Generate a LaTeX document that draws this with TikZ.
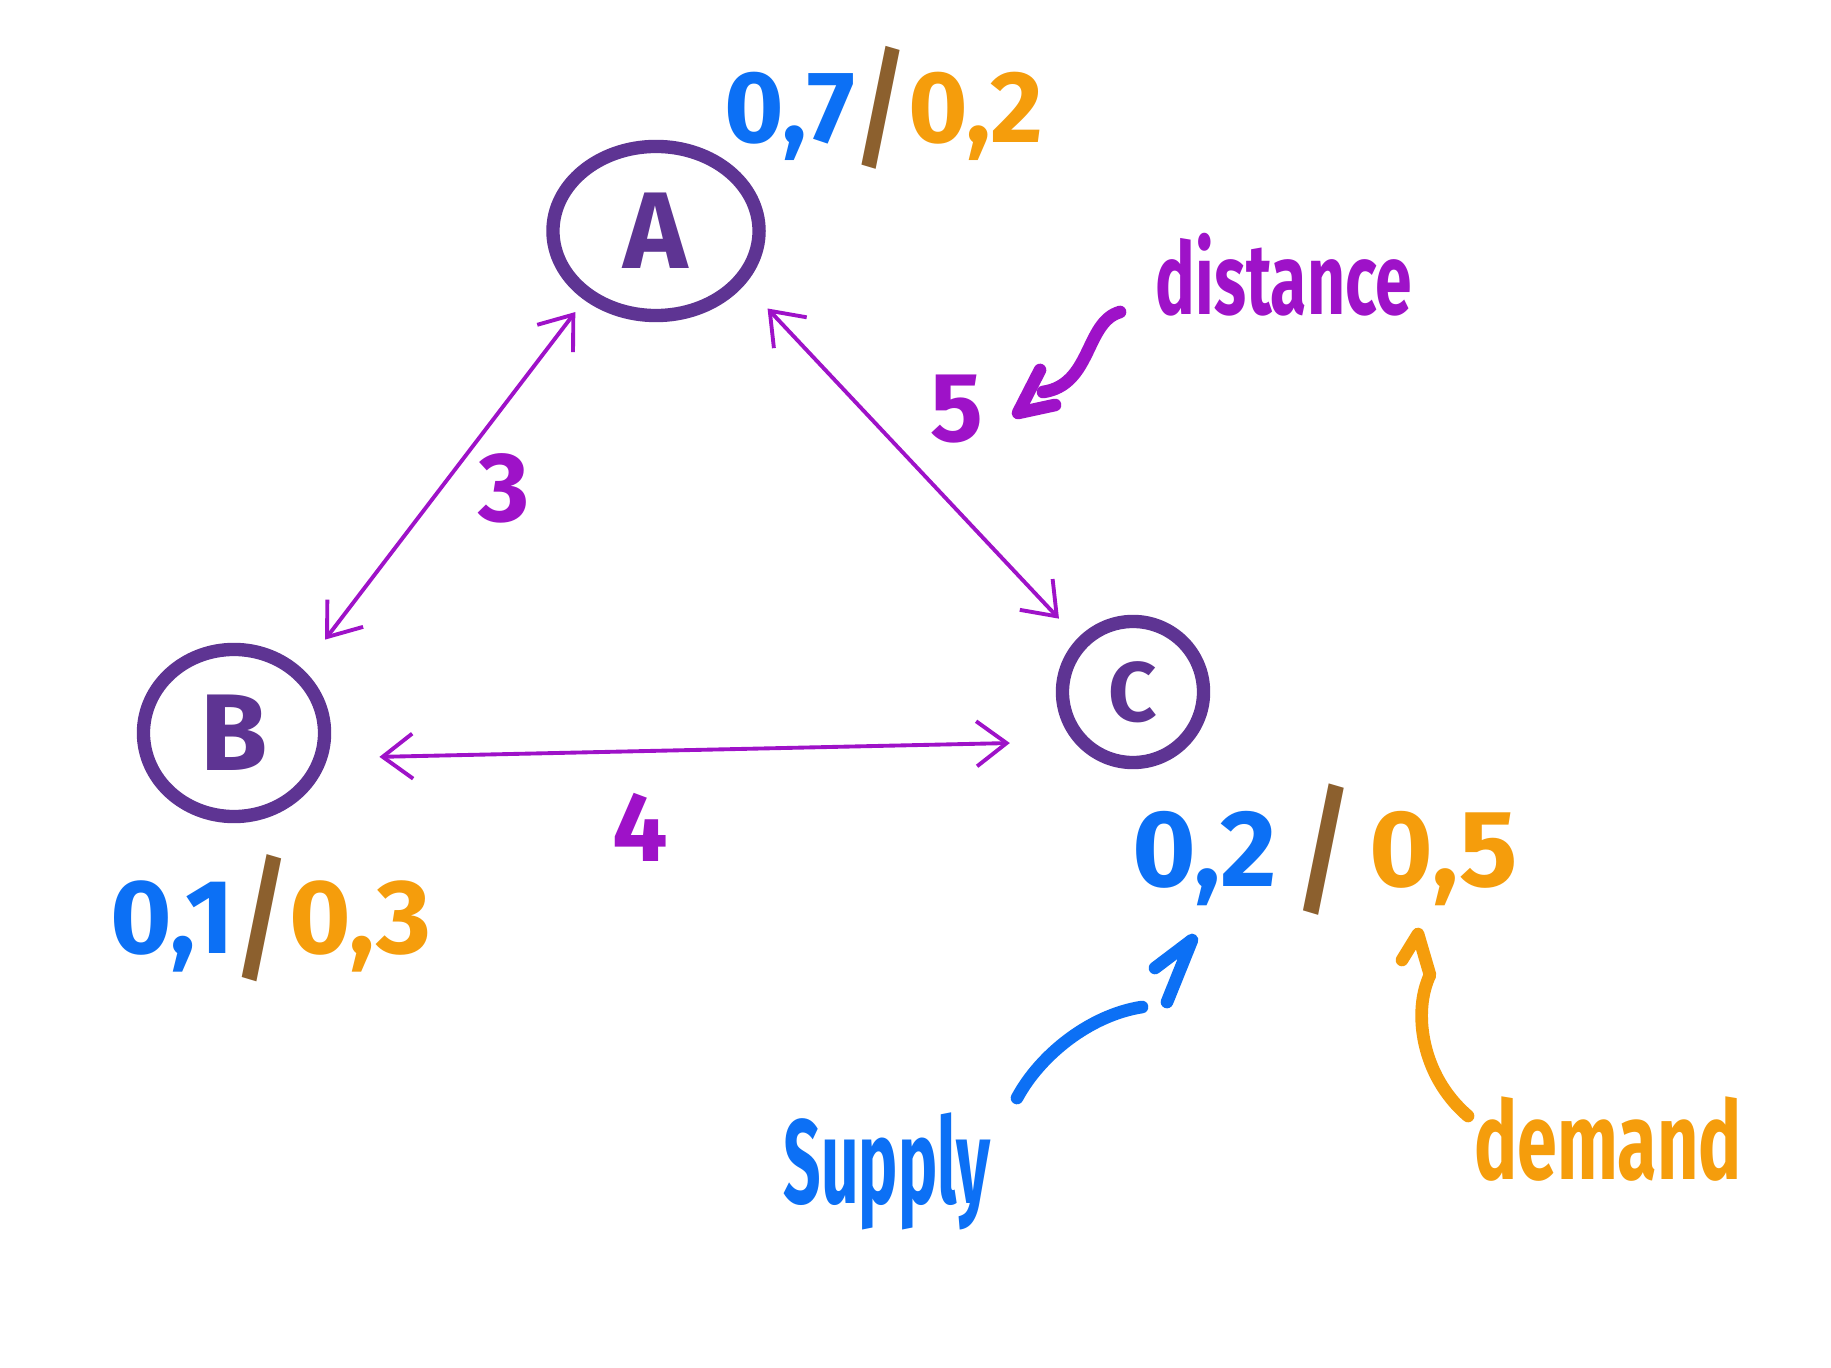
\documentclass[tikz,border=0pt]{standalone}
\usepackage{fontspec}
\newfontfamily\hand[FakeStretch=0.66]{Fira Sans}
\newfontfamily\handn[FakeStretch=0.55]{Fira Sans}
\newfontfamily\handd{Fira Sans}
\usetikzlibrary{shapes.geometric,arrows.meta}
\definecolor{nodepurple}{RGB}{94,52,147}
\definecolor{edgemag}{RGB}{158,18,200}
\definecolor{supblue}{RGB}{12,112,245}
\definecolor{demorange}{RGB}{245,157,12}
\definecolor{slashbrown}{RGB}{140,96,46}
\newcommand{\bslash}{{\color{slashbrown}\raisebox{-0.12em}{\scalebox{1.0}[1.3]{/}}}}
\begin{document}
\begin{tikzpicture}[x=0.01cm,y=-0.01cm,
  vertex/.style={ellipse, draw=nodepurple, line width=3.8pt, inner sep=0pt,
    text=nodepurple, font=\handd\bfseries\fontsize{31}{31}\selectfont},
  edge/.style={draw=edgemag, line width=1.1pt, line cap=round, line join=round,
    {Straight Barb[length=0.3cm,width=0.45cm]}-{Straight Barb[length=0.3cm,width=0.45cm]}},
  weight/.style={text=edgemag, font=\handd\bfseries\fontsize{28}{28}\selectfont},
  pair/.style={font=\handd\bfseries\fontsize{29}{29}\selectfont, inner sep=0pt},
  note/.style={font=\hand\bfseries\fontsize{31}{31}\selectfont, inner sep=0pt, anchor=base},
  ann/.style={line width=3.6pt, line cap=round, line join=round}]
\useasboundingbox[fill=white] (0,0) rectangle (1831,1368);

% vertices
\node[vertex, minimum width=2.06cm, minimum height=1.69cm] (A) at (656,231) {A};
\node[vertex, minimum width=1.81cm, minimum height=1.67cm] (B) at (234,733) {B};
\node[vertex, minimum width=1.41cm, minimum height=1.41cm,
      font=\handd\bfseries\fontsize{24}{24}\selectfont] (C) at (1133,692) {C};

% supply / demand labels
\node[pair] (lA) at (884,108) {{\color{supblue}0,7}\bslash{\color{demorange}0,2}};
\node[pair, font=\handd\bfseries\fontsize{30}{30}\selectfont] (lB) at (271,918) {{\color{supblue}0,1}\bslash{\color{demorange}0,3}};
\node[pair, font=\handd\bfseries\fontsize{31}{31}\selectfont] (lC) at (1325,850) {{\color{supblue}0,2}\,\bslash\,{\color{demorange}0,5}};

% edges
\draw[edge, shorten <=0.15cm, shorten >=0.37cm] (A.224) -- (B.43);
\draw[edge, shorten <=0.33cm, shorten >=0.27cm] (A.329) -- (C.136);
\draw[edge, shorten <=0.52cm, shorten >=0.64cm] (B.-15) -- (C.220);

% edge weights
\node[weight] (w3) at (504,488) {3};
\node[weight] (w5) at (957,409) {5};
\node[weight] (w4) at (640,827) {4};

% annotations
\node[note, text=edgemag, font=\hand\bfseries\fontsize{28.5}{28.5}\selectfont] (dist) at (1284,315) {distance};
\node[note, text=supblue, font=\handn\bfseries\fontsize{34}{34}\selectfont] (supply) at (887,1203) {Supply};
\node[note, text=demorange] (demand) at (1608,1179) {demand};

% distance arrow
\coordinate (d0) at (1120,312);
\coordinate (d1) at (1043,392);
\coordinate (d2) at (1040,370);
\coordinate (d3) at (1018,413);
\coordinate (d4) at (1055,405);
\draw[ann, edgemag] (d0) .. controls (1085,322) and (1092,385) .. (d1);
\draw[ann, edgemag] (d2) -- (d3) -- (d4);

% supply arrow
\coordinate (s0) at (1017,1098);
\coordinate (s1) at (1142,1007);
\coordinate (s2) at (1167,1002);
\coordinate (s3) at (1192,940);
\coordinate (s4) at (1155,968);
\draw[ann, supblue] (s0) .. controls (1040,1055) and (1090,1015) .. (s1);
\draw[ann, supblue] (s2) -- (s3) -- (s4);

% demand arrow
\coordinate (e0) at (1468,1116);
\coordinate (e1) at (1430,975);
\coordinate (e2) at (1418,934);
\coordinate (e3) at (1402,960);
\draw[ann, demorange] (e0) .. controls (1420,1075) and (1413,1010) .. (e1) -- (e2) -- (e3);
\end{tikzpicture}
\end{document}
